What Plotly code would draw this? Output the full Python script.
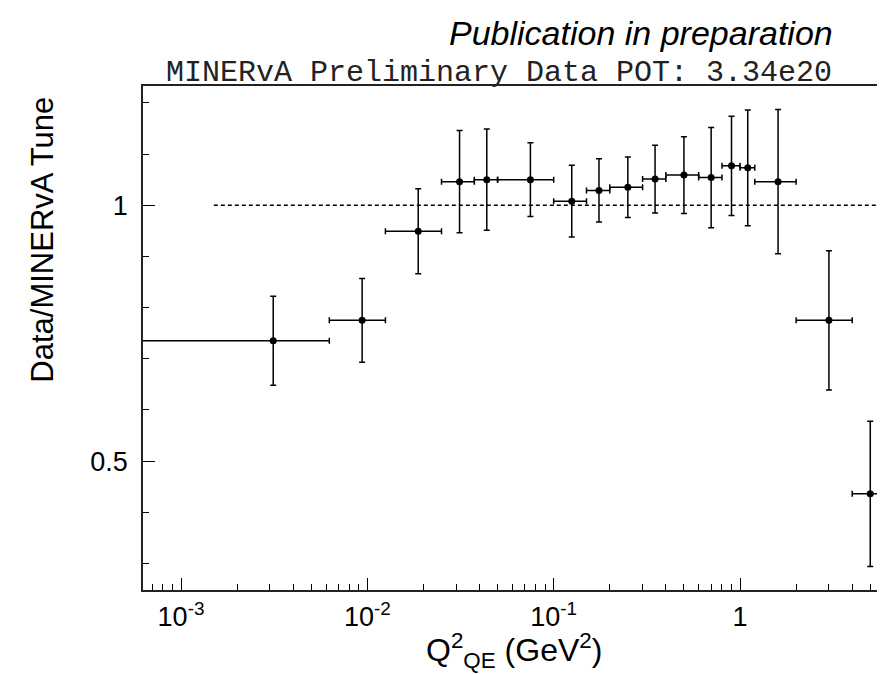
import plotly.graph_objects as go

# ---- data ----
bin_lo = [0.0, 0.00625, 0.0125, 0.025, 0.0375, 0.05, 0.1, 0.15, 0.2, 0.3, 0.4, 0.6, 0.8, 1.0, 1.2, 2.0, 4.0]
bin_hi = [0.00625, 0.0125, 0.025, 0.0375, 0.05, 0.1, 0.15, 0.2, 0.3, 0.4, 0.6, 0.8, 1.0, 1.2, 2.0, 4.0, 6.0]
ratio = [0.735, 0.775, 0.949, 1.046, 1.050, 1.050, 1.008, 1.029, 1.035, 1.051, 1.059, 1.054, 1.077, 1.073, 1.046, 0.775, 0.436]
ratio_err = [0.087, 0.082, 0.083, 0.100, 0.099, 0.072, 0.070, 0.062, 0.059, 0.066, 0.075, 0.098, 0.097, 0.113, 0.141, 0.136, 0.142]

ref_line_x = [0.0015, 6.0]
ref_line_y = [1.0, 1.0]

x_tick_vals = [0.001, 0.01, 0.1, 1]
x_tick_text = ["10<sup>-3</sup>", "10<sup>-2</sup>", "10<sup>-1</sup>", "1"]

# ---- derived ----
x_center = [(lo + hi) / 2 for lo, hi in zip(bin_lo, bin_hi)]
LOG_FLOOR = 1e-4  # zero edge cannot be shown on a log axis
err_minus = [c - max(lo, LOG_FLOOR) for c, lo in zip(x_center, bin_lo)]
err_plus = [hi - c for c, hi in zip(x_center, bin_hi)]

XR = [-3.204, 0.778]
YR = [0.248, 1.233]
FONT = "Liberation Sans, Arial, Helvetica, sans-serif"

minor_x = [m * 10 ** e for e in range(-4, 1) for m in range(2, 10)]

fig = go.Figure()
fig.add_trace(go.Scatter(
    x=ref_line_x, y=ref_line_y, mode="lines",
    line=dict(color="black", width=1.4, dash="4px,3px"),
    hoverinfo="skip", showlegend=False))
fig.add_trace(go.Scatter(
    x=x_center, y=ratio, mode="markers",
    marker=dict(color="black", size=7, symbol="circle"),
    error_y=dict(type="data", array=ratio_err, visible=True, color="black", thickness=1.5, width=3),
    error_x=dict(type="data", array=err_plus, arrayminus=err_minus, symmetric=False, visible=True,
                 color="black", thickness=1.5, width=3),
    showlegend=False))
# invisible trace on overlay axis for minor ticks
fig.add_trace(go.Scatter(x=[0.01], y=[1], xaxis="x2", mode="markers",
                         marker=dict(opacity=0), hoverinfo="skip", showlegend=False))

fig.update_layout(
    width=885, height=674,
    margin=dict(l=135, r=8, t=78, b=92, autoexpand=False),
    paper_bgcolor="white", plot_bgcolor="white",
    font=dict(family=FONT, color="black"),
    xaxis=dict(type="log", range=XR, tickvals=x_tick_vals, ticktext=x_tick_text,
               ticks="inside", ticklen=12, tickwidth=1.3, tickcolor="black",
               showline=True, linecolor="#222", linewidth=1.5, mirror=True,
               showgrid=False, zeroline=False, automargin=False,
               tickfont=dict(size=27, family=FONT), ticklabelstandoff=2),
    xaxis2=dict(type="log", range=XR, overlaying="x", anchor="y", side="bottom",
                tickvals=minor_x, ticks="inside", ticklen=6, tickwidth=1.2, tickcolor="black",
                showticklabels=False, showline=False, showgrid=False, zeroline=False, automargin=False),
    yaxis=dict(range=YR, tick0=0, dtick=0.5, ticks="inside", ticklen=12, tickwidth=1.3,
               tickcolor="black", showline=True, linecolor="#222", linewidth=1.5, mirror=True,
               showgrid=False, zeroline=False, automargin=False,
               tickfont=dict(size=27, family=FONT), ticklabelstandoff=8,
               minor=dict(dtick=0.1, tick0=0, ticks="inside", ticklen=6, tickwidth=1.2, tickcolor="black")),
    annotations=[
        dict(text="<i>Publication in preparation</i>", xref="paper", yref="paper",
             x=0.9326, y=1.105, xanchor="right", yanchor="middle", showarrow=False,
             font=dict(size=34, family=FONT)),
        dict(text="MINERvA Preliminary Data POT: 3.34e20", xref="paper", yref="paper",
             x=0.4798, y=1.026, xanchor="center", yanchor="middle", showarrow=False,
             font=dict(size=30, family="Liberation Mono, Courier New, monospace", color="#222")),
        dict(text="Data/MINERvA Tune", xref="paper", yref="paper", textangle=-90,
             x=-0.1348, y=0.695, xanchor="center", yanchor="middle", showarrow=False,
             font=dict(size=31, family=FONT)),
        dict(text="Q<sup>2</sup><sub>QE</sub> (GeV<sup>2</sup>)", xref="paper", yref="paper",
             x=0.5, y=-0.12, xanchor="center", yanchor="middle", showarrow=False,
             font=dict(size=32, family=FONT)),
    ],
)

fig.write_html("out.html")
